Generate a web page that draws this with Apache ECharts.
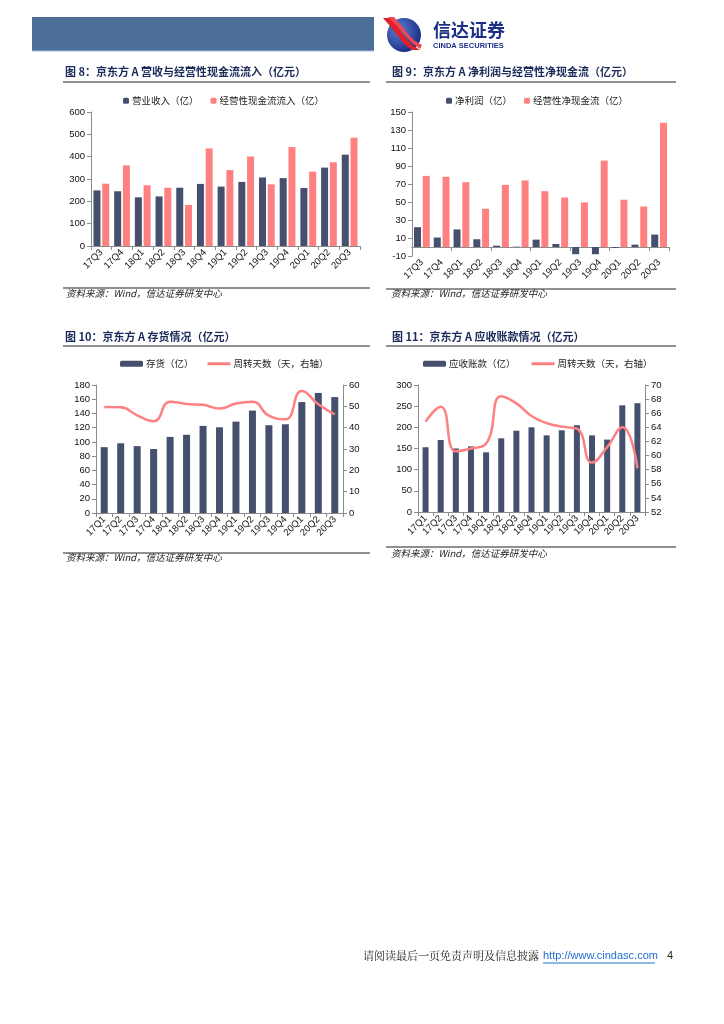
<!DOCTYPE html>
<html><head><meta charset="utf-8">
<script src="https://cdn.jsdelivr.net/npm/echarts@6/dist/echarts.min.js"></script>
<style>html,body{margin:0;padding:0;background:#fff}#c{width:724px;height:1024px}</style>
</head><body><div id="c"></div>
<script>
// ---- data ----
const q13 = ['17Q3','17Q4','18Q1','18Q2','18Q3','18Q4','19Q1','19Q2','19Q3','19Q4','20Q1','20Q2','20Q3'];
const q15 = ['17Q1','17Q2','17Q3','17Q4','18Q1','18Q2','18Q3','18Q4','19Q1','19Q2','19Q3','19Q4','20Q1','20Q2','20Q3'];
const revenue = [249,245,218,222,261,278,266,287,307,304,260,351,409];
const cashIn = [279,361,272,261,184,437,340,401,276,443,333,375,485];
const netProfit = [22,10.5,19.5,8.6,1.5,0.4,8.2,3.3,-8,-8,-1,2.6,13.8];
const netCash = [79,78,72,42.5,69,74,62,55,49.5,96,52.5,45,138];
const inventory = [92.6,98,94,90,107,110,122.5,120.5,128.5,144,123.4,124.8,156,168.8,163];
const invDays = [49.7,49.6,45.8,43,52.2,51.1,50.7,49,51.3,52.2,45.6,43.9,57.2,51,46.2];
const receivable = [153,170,150,155,141,174,192,200,181,193,205,181,171,252,257];
const arDays = [64.8,66.9,60.6,61,61.7,68.4,67.4,65.6,64.6,64.1,63.8,59,61.2,64,58.2];

const NAVY = '#454F6E', PINK = '#FF8080', AX = '#8C8C8C';
const FONT = '"Liberation Sans", Arial, "Noto Sans CJK SC", sans-serif';
const CJK = '"Noto Sans CJK SC", sans-serif';
const TITLE = '#1B2A5A';
const LINE_ICON = 'path://M0,0L23,0L23,3L0,3Z';

function yAx(grid, min, max, interval, pos) {
  return {type:'value', gridIndex:grid, min, max, interval, position:pos||'left',
    splitLine:{show:false},
    axisLine:{show:true, lineStyle:{color:AX, width:1}},
    axisTick:{show:true, length:4, lineStyle:{color:AX}},
    axisLabel:{fontSize:9.5, color:'#111', fontFamily:FONT, margin:6}};
}
function xAx(grid, data, extra) {
  return Object.assign({type:'category', gridIndex:grid, data, position:'bottom',
    axisLine:{show:true, onZero:false, lineStyle:{color:AX}},
    axisTick:{show:true, length:4, lineStyle:{color:AX}},
    axisLabel:{rotate:45, fontSize:9.5, color:'#111', fontFamily:FONT, margin:5, interval:0}}, extra||{});
}
function lg(data, left, top, iw, ih, gap) {
  return {data, left, top, itemWidth:iw, itemHeight:ih, itemGap:gap, orient:'horizontal',
    textStyle:{fontSize:9.5, color:'#222', fontFamily:CJK, padding:[0,0,0,-2]}, selectedMode:false};
}
function titleTxt(x, y, t) {
  return {type:'text', left:x, top:y, style:{text:t, fontSize:11, fontWeight:'bold', fill:TITLE, fontFamily:CJK}};
}
function hline(x1, x2, y, w) {
  return {type:'line', shape:{x1, y1:y, x2, y2:y}, style:{stroke:'#222', lineWidth:w||1.2}};
}
function src(x, y) {
  return {type:'text', left:x, top:y, style:{text:'资料来源：Wind，信达证券研发中心', fontSize:9.5, fontStyle:'italic', fill:'#222', fontFamily:CJK}};
}

const option = {
  animation:false,
  backgroundColor:'#fff',
  grid:[
    {left:91, top:112, width:269, height:134},
    {left:412, top:112, width:257, height:144},
    {left:96, top:385, width:247, height:128},
    {left:418, top:385, width:227, height:127}
  ],
  xAxis:[
    xAx(0, q13),
    xAx(1, q13, {axisLine:{show:false, onZero:false}, axisTick:{show:false}}),
    xAx(1, q13, {axisLine:{show:true, onZero:true, lineStyle:{color:AX}}, axisLabel:{show:false}}),
    xAx(2, q15),
    xAx(3, q15)
  ],
  yAxis:[
    yAx(0, 0, 600, 100),
    yAx(1, -10, 150, 20),
    yAx(2, 0, 180, 20),
    yAx(2, 0, 60, 10, 'right'),
    yAx(3, 0, 300, 50),
    yAx(3, 52, 70, 2, 'right')
  ],
  legend:[
    lg(['营业收入（亿）','经营性现金流流入（亿）'], 118, 91, 6, 6, 12),
    lg(['净利润（亿）','经营性净现金流（亿）'], 441, 91, 6, 6, 12),
    lg(['存货（亿）', {name:'周转天数（天，右轴）', icon:LINE_ICON}], 115, 354, 23, 6, 14),
    lg(['应收账款（亿）', {name:'周转天数（天，右轴）', icon:LINE_ICON}], 418, 354, 23, 6, 16)
  ],
  series:[
    {name:'营业收入（亿）', type:'bar', xAxisIndex:0, yAxisIndex:0, data:revenue, itemStyle:{color:NAVY}, barWidth:7, barGap:'25%'},
    {name:'经营性现金流流入（亿）', type:'bar', xAxisIndex:0, yAxisIndex:0, data:cashIn, itemStyle:{color:PINK}, barWidth:7, barGap:'25%'},
    {name:'净利润（亿）', type:'bar', xAxisIndex:1, yAxisIndex:1, data:netProfit, itemStyle:{color:NAVY}, barWidth:7, barGap:'25%'},
    {name:'经营性净现金流（亿）', type:'bar', xAxisIndex:1, yAxisIndex:1, data:netCash, itemStyle:{color:PINK}, barWidth:7, barGap:'25%'},
    {name:'存货（亿）', type:'bar', xAxisIndex:3, yAxisIndex:2, data:inventory, itemStyle:{color:NAVY}, barWidth:7},
    {name:'周转天数（天，右轴）', type:'line', xAxisIndex:3, yAxisIndex:3, data:invDays, smooth:true, symbol:'none', lineStyle:{color:PINK, width:2.5}, itemStyle:{color:PINK}},
    {name:'应收账款（亿）', type:'bar', xAxisIndex:4, yAxisIndex:4, data:receivable, itemStyle:{color:NAVY}, barWidth:6},
    {name:'周转天数（天，右轴）', type:'line', xAxisIndex:4, yAxisIndex:5, data:arDays, smooth:true, symbol:'none', lineStyle:{color:PINK, width:2.5}, itemStyle:{color:PINK}}
  ],
  graphic:[
    {type:'rect', shape:{x:32, y:17, width:342, height:34}, style:{fill:'#4C6F97'}},
    {type:'line', shape:{x1:32, y1:51, x2:374, y2:51}, style:{stroke:'#A9BCD3', lineWidth:1}},
    {type:'circle', shape:{cx:404, cy:35, r:17}, style:{fill:{type:'radial', x:0.35, y:0.35, r:0.8, colorStops:[{offset:0, color:'#5A7FD0'},{offset:1, color:'#10217A'}]}}},
    {type:'polygon', shape:{points:[[383,18],[391,18],[398,27],[405,37],[412,45],[420,50],[412,50],[404,44],[397,35],[390,26]]}, style:{fill:'#E0202A'}},
    {type:'polygon', shape:{points:[[388,17],[394,17],[401,25],[408,34],[415,41],[422,45],[420,49],[412,43],[405,35],[396,25]]}, style:{fill:'#F04850'}},
    {type:'text', left:433, top:21, style:{text:'信达证券', fontSize:18, fontWeight:'bold', fill:'#1B2F86', fontFamily:CJK}},
    {type:'text', left:433, top:42, style:{text:'CINDA SECURITIES', fontSize:7.5, fontWeight:'bold', fill:'#1B2F86', fontFamily:FONT}},

    titleTxt(65, 66, '图 8：京东方 A 营收与经营性现金流流入（亿元）'),
    titleTxt(392, 66, '图 9：京东方 A 净利润与经营性净现金流（亿元）'),
    titleTxt(65, 331, '图 10：京东方 A 存货情况（亿元）'),
    titleTxt(392, 331, '图 11：京东方 A 应收账款情况（亿元）'),
    hline(63, 370, 82), hline(386, 676, 82), hline(63, 370, 346), hline(386, 676, 346),
    hline(63, 370, 288, 1), hline(386, 676, 289, 1), hline(63, 370, 553, 1), hline(386, 676, 547, 1),
    src(66, 289), src(391, 289), src(66, 553), src(391, 549),

    {type:'text', left:363, top:950, style:{text:'请阅读最后一页免责声明及信息披露', fontSize:11, fill:'#222', fontFamily:'"Noto Serif CJK SC", "Noto Sans CJK SC", serif'}},
    {type:'text', left:543, top:950, style:{text:'http://www.cindasc.com', fontSize:11, fill:'#1F6FD0', fontFamily:FONT}},
    {type:'line', shape:{x1:543, y1:963, x2:655, y2:963}, style:{stroke:'#1F6FD0', lineWidth:1}},
    {type:'text', left:667, top:950, style:{text:'4', fontSize:11, fill:'#222', fontFamily:FONT}}
  ]
};
const chart = echarts.init(document.getElementById('c'), null, {renderer:'canvas'});
chart.setOption(option);
</script></body></html>
